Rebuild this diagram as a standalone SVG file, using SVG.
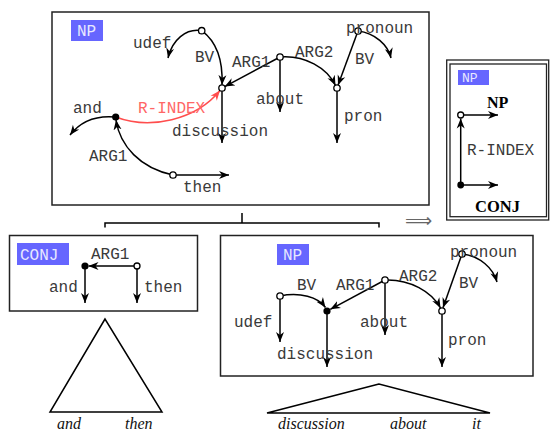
<svg xmlns="http://www.w3.org/2000/svg" width="550" height="434" viewBox="0 0 550 434">
  <style>
    .box { fill: #fff; stroke: #222; stroke-width: 1.5; }
    .lbl { fill: #6666ff; }
    .lbltxt { font-family: "Liberation Mono", monospace; font-size: 16px; fill: #e8e8ff; }
    .mono { font-family: "Liberation Mono", monospace; font-size: 16px; fill: #3a3a3a; }
    .edge { fill: none; stroke: #000; stroke-width: 1.5; marker-end: url(#ah); }
    .plain { fill: none; stroke: #000; stroke-width: 1.5; }
    .ridx { fill: none; stroke: #ff4d4d; stroke-width: 1.5; marker-end: url(#ahr); }
    .open { fill: #fff; stroke: #000; stroke-width: 1.3; }
    .filled { fill: #000; }
    .it { font-family: "Liberation Serif", serif; font-style: italic; font-size: 16px; fill: #111; }
    .bold { font-family: "Liberation Serif", serif; font-weight: bold; font-size: 16px; fill: #000; }
  </style>
  <defs>
    <marker id="ah" viewBox="0 0 10 10" refX="10" refY="5" markerWidth="10" markerHeight="10" markerUnits="userSpaceOnUse" orient="auto">
      <path d="M0,1 L10,5 L0,9 L3,5 z" fill="#000"/>
    </marker>
    <marker id="ahr" viewBox="0 0 10 10" refX="10" refY="5" markerWidth="10" markerHeight="10" markerUnits="userSpaceOnUse" orient="auto">
      <path d="M0,1 L10,5 L0,9 L3,5 z" fill="#ff4d4d"/>
    </marker>
  </defs>

  <!-- Top: full NP structure -->
  <g id="np-top">
    <rect class="box" x="52" y="12" width="377" height="193"/>
    <rect class="lbl" x="71" y="20" width="32" height="21"/>
    <text class="lbltxt" x="77" y="36">NP</text>
    <g id="np-top-edges">
      <path class="edge" d="M201.7,30.7 C186,28 172,40 168,58"/>
      <path class="edge" d="M201.7,30.7 C217,42 223,62 222,85"/>
      <path class="edge" d="M280,57 L224.7,86.6"/>
      <path class="edge" d="M280,57 V112"/>
      <path class="edge" d="M280,57 C305,55 327,68 335.5,85.5"/>
      <path class="edge" d="M358,31 L338,85.2"/>
      <path class="edge" d="M358,31 C375,33 388,45 391,58"/>
      <path class="edge" d="M222,88 V143"/>
      <path class="edge" d="M337,88 V143"/>
      <path class="edge" d="M115.7,117 C95,115 80,122 70,135"/>
      <path class="edge" d="M173,175 C140,168 120,146 116,120"/>
      <path class="edge" d="M173,175 H229"/>
      <path class="ridx" d="M115.7,117 C150,130 196,120 220,90.5"/>
    </g>
    <circle class="open" cx="201.7" cy="30.7" r="3.2"/>
    <circle class="open" cx="222" cy="88" r="3.2"/>
    <circle class="open" cx="280" cy="57" r="3.2"/>
    <circle class="open" cx="337" cy="88" r="3.2"/>
    <circle class="open" cx="358" cy="31" r="3.2"/>
    <circle class="filled" cx="115.7" cy="117" r="3.6"/>
    <circle class="open" cx="173" cy="175" r="3.2"/>
    <text class="mono" x="133" y="47.7">udef</text>
    <text class="mono" x="195" y="61.7">BV</text>
    <text class="mono" x="232" y="66.7">ARG1</text>
    <text class="mono" x="295" y="57.3">ARG2</text>
    <text class="mono" x="346" y="33.3">pronoun</text>
    <text class="mono" x="355" y="64.3">BV</text>
    <text class="mono" x="256" y="104.3">about</text>
    <text class="mono" x="344" y="121">pron</text>
    <text class="mono" x="172" y="135.7">discussion</text>
    <text class="mono" x="138" y="113.3" style="fill:#ff6666">R-INDEX</text>
    <text class="mono" x="73" y="113.3">and</text>
    <text class="mono" x="89" y="160.7">ARG1</text>
    <text class="mono" x="183" y="191.7">then</text>
  </g>

  <!-- Schema: NP built from CONJ via R-INDEX -->
  <g id="np-schema">
    <rect x="446.7" y="60" width="102" height="160" fill="#fff" stroke="#222" stroke-width="1.3"/>
    <rect x="450" y="64" width="96.5" height="152.7" fill="none" stroke="#222" stroke-width="1.3"/>
    <rect class="lbl" x="458" y="70" width="31" height="15"/>
    <text class="lbltxt" x="462" y="82" style="font-size:13px">NP</text>
    <path class="edge" d="M460.7,185 V118.5"/>
    <path class="edge" d="M460.7,115 H498"/>
    <path class="edge" d="M460.7,185 H498"/>
    <circle class="open" cx="460.7" cy="115" r="3"/>
    <circle class="filled" cx="460.7" cy="185" r="3.4"/>
    <text class="bold" x="487" y="108">NP</text>
    <text class="mono" x="467" y="155">R-INDEX</text>
    <text class="bold" x="475" y="211.7" style="font-size:16.5px">CONJ</text>
  </g>

  <text x="405" y="227" style="font-family:'DejaVu Sans',sans-serif;font-size:19px;fill:#666">⟹</text>

  <!-- Tree bracket joining the daughters -->
  <g id="tree-links">
    <path class="plain" d="M242,213 V223 M105,227.5 V223 H379 V227.5"/>
  </g>

  <!-- Left daughter: CONJ -->
  <g id="conj">
    <rect class="box" x="9.5" y="235.5" width="188" height="75.5"/>
    <rect class="lbl" x="17" y="243" width="52" height="22"/>
    <text class="lbltxt" x="20" y="259.5">CONJ</text>
    <path class="edge" d="M134,266 H88.5"/>
    <path class="edge" d="M85,266 V303"/>
    <path class="edge" d="M137,266 V303"/>
    <circle class="filled" cx="85" cy="266" r="3.6"/>
    <circle class="open" cx="137" cy="266" r="3"/>
    <text class="mono" x="91" y="259">ARG1</text>
    <text class="mono" x="49" y="291.7">and</text>
    <text class="mono" x="144" y="291.7">then</text>
    <path class="plain" d="M105,319 L50,412 H162 Z"/>
    <text class="it" x="57" y="429">and</text>
    <text class="it" x="125" y="429">then</text>
  </g>

  <!-- Right daughter: NP -->
  <g id="np-bottom">
    <rect class="box" x="220.5" y="235.5" width="312.5" height="140.5"/>
    <rect class="lbl" x="277" y="244" width="32" height="21"/>
    <text class="lbltxt" x="283" y="260">NP</text>
    <path class="edge" d="M280,296 V342"/>
    <path class="edge" d="M280,296 C300,292 318,297 325.5,307.5"/>
    <path class="edge" d="M385,280 L330.3,309.3"/>
    <path class="edge" d="M385,280 V335"/>
    <path class="edge" d="M385,280 C410,279 432,292 440.5,308"/>
    <path class="edge" d="M462,254 L443,307.8"/>
    <path class="edge" d="M462,254 C480,256 493,268 497,282"/>
    <path class="edge" d="M327,311 V367"/>
    <path class="edge" d="M442,311 V367"/>
    <circle class="open" cx="280" cy="296" r="3.2"/>
    <circle class="filled" cx="327" cy="311" r="3.6"/>
    <circle class="open" cx="385" cy="280" r="3.2"/>
    <circle class="open" cx="442" cy="311" r="3.2"/>
    <circle class="open" cx="462" cy="254" r="3.2"/>
    <text class="mono" x="234" y="326.5">udef</text>
    <text class="mono" x="297" y="290">BV</text>
    <text class="mono" x="336" y="290">ARG1</text>
    <text class="mono" x="399" y="280.7">ARG2</text>
    <text class="mono" x="450" y="256.7">pronoun</text>
    <text class="mono" x="459" y="288">BV</text>
    <text class="mono" x="360" y="326.7">about</text>
    <text class="mono" x="448" y="345">pron</text>
    <text class="mono" x="277" y="359.3">discussion</text>
    <path class="plain" d="M379,384 L267,413 H490 Z"/>
    <text class="it" x="278" y="429">discussion</text>
    <text class="it" x="390" y="429">about</text>
    <text class="it" x="472" y="429">it</text>
  </g>
</svg>
